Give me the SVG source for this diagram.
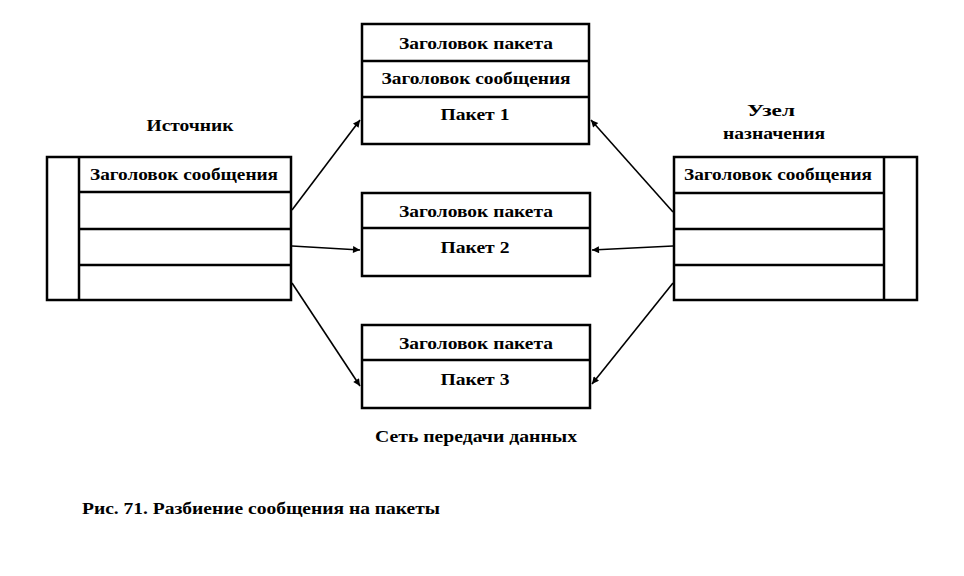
<svg xmlns="http://www.w3.org/2000/svg" width="964" height="576" viewBox="0 0 964 576">
<style>
.box{fill:#fff;stroke:#000;stroke-width:2.5}
.ln{stroke:#000;stroke-width:2.5;fill:none}
.t{font-family:"Liberation Serif",serif;font-weight:bold;font-size:16px;fill:#000;text-anchor:middle}
.c{stroke:#000;stroke-width:1.6;fill:none;marker-end:url(#ah)}
</style>
<defs>
<marker id="ah" viewBox="0 0 10 10" refX="10" refY="5" markerWidth="9" markerHeight="7" markerUnits="userSpaceOnUse" orient="auto">
<path d="M0,0 L10,5 L0,10 z" fill="#000"/>
</marker>
</defs>
<rect width="964" height="576" fill="#fff"/>
<g id="source">
<rect class="box" x="47" y="157" width="244" height="143"/>
<line class="ln" x1="79" y1="157" x2="79" y2="300"/>
<line class="ln" x1="79" y1="192" x2="291" y2="192"/>
<line class="ln" x1="79" y1="229" x2="291" y2="229"/>
<line class="ln" x1="79" y1="265" x2="291" y2="265"/>
<text class="t" x="184" y="180" textLength="188" lengthAdjust="spacingAndGlyphs">Заголовок сообщения</text>
<text class="t" x="190" y="131" textLength="87" lengthAdjust="spacingAndGlyphs">Источник</text>
</g>
<g id="dest">
<rect class="box" x="674" y="157" width="243" height="143"/>
<line class="ln" x1="884" y1="157" x2="884" y2="300"/>
<line class="ln" x1="674" y1="193" x2="884" y2="193"/>
<line class="ln" x1="674" y1="229" x2="884" y2="229"/>
<line class="ln" x1="674" y1="265" x2="884" y2="265"/>
<text class="t" x="778" y="180" textLength="188" lengthAdjust="spacingAndGlyphs">Заголовок сообщения</text>
<text class="t" x="771" y="116" textLength="48" lengthAdjust="spacingAndGlyphs">Узел</text>
<text class="t" x="774" y="139" textLength="102" lengthAdjust="spacingAndGlyphs">назначения</text>
</g>
<g id="packet1">
<rect class="box" x="362" y="24" width="227" height="120"/>
<line class="ln" x1="362" y1="61" x2="589" y2="61"/>
<line class="ln" x1="362" y1="97" x2="589" y2="97"/>
<text class="t" x="476" y="49" textLength="154" lengthAdjust="spacingAndGlyphs">Заголовок пакета</text>
<text class="t" x="476" y="84" textLength="189" lengthAdjust="spacingAndGlyphs">Заголовок сообщения</text>
<text class="t" x="475" y="120" textLength="69" lengthAdjust="spacingAndGlyphs">Пакет 1</text>
</g>
<g id="packet2">
<rect class="box" x="362" y="193" width="228" height="83"/>
<line class="ln" x1="362" y1="228" x2="590" y2="228"/>
<text class="t" x="476" y="217" textLength="154" lengthAdjust="spacingAndGlyphs">Заголовок пакета</text>
<text class="t" x="475" y="253" textLength="69" lengthAdjust="spacingAndGlyphs">Пакет 2</text>
</g>
<g id="packet3">
<rect class="box" x="362" y="325" width="228" height="83"/>
<line class="ln" x1="362" y1="360" x2="590" y2="360"/>
<text class="t" x="476" y="349" textLength="154" lengthAdjust="spacingAndGlyphs">Заголовок пакета</text>
<text class="t" x="475" y="385" textLength="69" lengthAdjust="spacingAndGlyphs">Пакет 3</text>
</g>
<g id="connectors">
<line class="c" x1="292" y1="210" x2="360" y2="120"/>
<line class="c" x1="292" y1="246" x2="360" y2="250"/>
<line class="c" x1="292" y1="283" x2="360" y2="386"/>
<line class="c" x1="673" y1="212" x2="591" y2="120"/>
<line class="c" x1="673" y1="246" x2="592" y2="250"/>
<line class="c" x1="673" y1="283" x2="592" y2="384"/>
</g>
<text class="t" x="476" y="442" textLength="202" lengthAdjust="spacingAndGlyphs">Сеть передачи данных</text>
<text class="t" x="82" y="514" style="text-anchor:start" textLength="358" lengthAdjust="spacingAndGlyphs">Рис. 71. Разбиение сообщения на пакеты</text>
</svg>
